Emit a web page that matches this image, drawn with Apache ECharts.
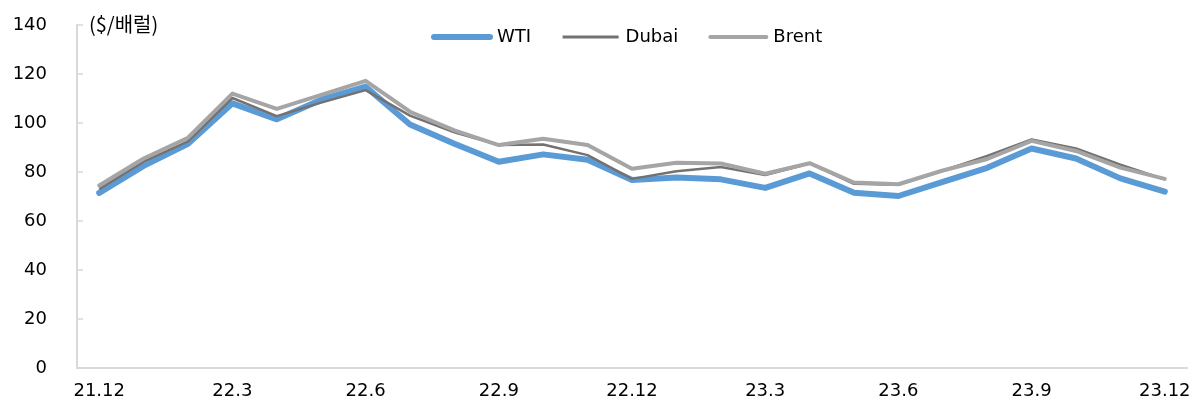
<!DOCTYPE html>
<html>
<head>
<meta charset="utf-8">
<script src="https://cdn.jsdelivr.net/npm/echarts@6/dist/echarts.min.js"></script>
<style>
  html, body { margin: 0; padding: 0; background: #fff; }
  #chart { width: 1196px; height: 409px; }
</style>
</head>
<body>
<div id="chart"></div>
<script>
// 월별 카테고리 (21.12 ~ 23.12)
const months = [
  '21.12', '22.1', '22.2', '22.3', '22.4', '22.5', '22.6', '22.7', '22.8', '22.9', '22.10', '22.11',
  '22.12', '23.1', '23.2', '23.3', '23.4', '23.5', '23.6', '23.7', '23.8', '23.9', '23.10', '23.11', '23.12'
]

// 유가 ($/배럴) - 그림에서 읽은 값
const wti = [71.5, 82.5, 91.5, 108, 101.5, 109.5, 114.8, 99.4, 91.5, 84.2, 87.2, 85, 76.7, 77.8, 77, 73.5, 79.4, 71.5, 70.2, 76, 81.7, 89.6, 85.5, 77.4, 72]
const dubai = [73, 84.2, 92.5, 110.2, 102.8, 108.3, 113.4, 103, 96.2, 91, 91.2, 86.9, 77.2, 80.3, 82, 78.8, 83.5, 75.2, 74.8, 80.5, 86.6, 93.3, 89.6, 83, 77]
const brent = [74.5, 85.5, 94, 112, 105.8, 111.5, 117.2, 104.6, 97, 91, 93.6, 91, 81.3, 83.8, 83.5, 79.3, 83.6, 75.7, 75, 80.6, 85.3, 92.7, 88.6, 81.8, 77.2]

const yTicks = { min: 0, max: 140, interval: 20 }

const font = '"DejaVu Sans", "Noto Sans CJK KR", sans-serif'
const axisColor = '#D9D9D9'
const textColor = '#000'

// 범례 아이콘 선 굵기
const legendItems = [
  { name: 'WTI', lineStyle: { width: 6, cap: 'round' } },
  { name: 'Dubai', lineStyle: { width: 3 } },
  { name: 'Brent', lineStyle: { width: 4, cap: 'round' } }
]

const chart = echarts.init(document.getElementById('chart'))

chart.setOption({
  animation: false,
  textStyle: { fontFamily: font },
  grid: { left: 77, right: 9, top: 25, bottom: 41, containLabel: false },
  legend: {
    top: 23,
    left: 426,
    itemWidth: 56,
    itemHeight: 10,
    itemGap: 30,
    itemStyle: { opacity: 0 },
    textStyle: { fontSize: 18, color: textColor, fontFamily: font, padding: [0, 0, 0, 2] },
    data: legendItems
  },
  graphic: [
    {
      type: 'text',
      left: 89,
      top: 14,
      style: { text: '($/배럴)', fontSize: 20, fill: textColor, fontFamily: '"Noto Sans CJK KR", sans-serif' }
    }
  ],
  xAxis: {
    type: 'category',
    data: months,
    boundaryGap: true,
    axisLine: { lineStyle: { color: axisColor, width: 2 } },
    axisTick: { interval: 2, inside: true, length: 6, lineStyle: { color: axisColor, width: 1.5 } },
    axisLabel: { interval: 2, margin: 14, fontSize: 18, color: textColor, fontFamily: font },
    splitLine: { show: false }
  },
  yAxis: {
    type: 'value',
    min: yTicks.min,
    max: yTicks.max,
    interval: yTicks.interval,
    axisLine: { show: true, lineStyle: { color: axisColor, width: 2 } },
    axisTick: { show: true, inside: true, length: 6, lineStyle: { color: axisColor, width: 1.5 } },
    axisLabel: { margin: 30, fontSize: 18, color: textColor, fontFamily: font },
    splitLine: { show: false }
  },
  series: [
    {
      name: 'WTI',
      type: 'line',
      data: wti,
      symbol: 'none',
      lineStyle: { color: '#5B9BD5', width: 6, cap: 'round', join: 'round' },
      itemStyle: { color: '#5B9BD5' }
    },
    {
      name: 'Dubai',
      type: 'line',
      data: dubai,
      symbol: 'none',
      lineStyle: { color: '#767171', width: 2.5, join: 'round' },
      itemStyle: { color: '#767171' }
    },
    {
      name: 'Brent',
      type: 'line',
      data: brent,
      symbol: 'none',
      lineStyle: { color: '#A5A5A5', width: 4, cap: 'round', join: 'round' },
      itemStyle: { color: '#A5A5A5' }
    }
  ]
})
</script>
</body>
</html>
